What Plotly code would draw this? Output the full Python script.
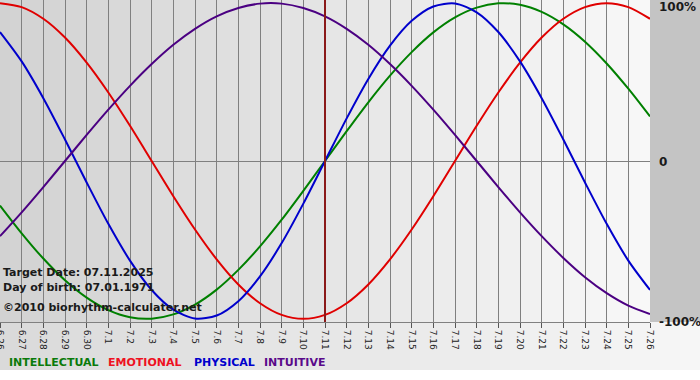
import plotly.graph_objects as go

# ---- data ----
days = ["6.26", "6.27", "6.28", "6.29", "6.30",
        "7.1", "7.2", "7.3", "7.4", "7.5", "7.6", "7.7", "7.8", "7.9", "7.10",
        "7.11", "7.12", "7.13", "7.14", "7.15", "7.16", "7.17", "7.18", "7.19",
        "7.20", "7.21", "7.22", "7.23", "7.24", "7.25", "7.26"]

physical = [0.817, 0.631, 0.398, 0.136, -0.136, -0.398, -0.631, -0.817, -0.942, -0.998,
            -0.979, -0.888, -0.731, -0.520, -0.270, 0.0, 0.270, 0.520, 0.731, 0.888,
            0.979, 0.998, 0.942, 0.817, 0.631, 0.398, 0.136, -0.136, -0.398, -0.631, -0.817]

emotional = [1.0, 0.975, 0.901, 0.782, 0.623, 0.434, 0.223, 0.0, -0.223, -0.434,
             -0.623, -0.782, -0.901, -0.975, -1.0, -0.975, -0.901, -0.782, -0.623, -0.434,
             -0.223, 0.0, 0.223, 0.434, 0.623, 0.782, 0.901, 0.975, 1.0, 0.975, 0.901]

intellectual = [-0.282, -0.458, -0.618, -0.756, -0.866, -0.945, -0.990, -0.999, -0.972, -0.910,
                -0.815, -0.690, -0.541, -0.372, -0.189, 0.0, 0.189, 0.372, 0.541, 0.690,
                0.815, 0.910, 0.972, 0.999, 0.990, 0.945, 0.866, 0.756, 0.618, 0.458, 0.282]

intuitive = [-0.476, -0.325, -0.165, 0.0, 0.165, 0.325, 0.476, 0.614, 0.736, 0.837,
             0.916, 0.969, 0.997, 0.997, 0.969, 0.916, 0.837, 0.736, 0.614, 0.476,
             0.325, 0.165, 0.0, -0.165, -0.325, -0.476, -0.614, -0.736, -0.837, -0.916, -0.969]

target_day = "7.11"
y_labels = ["100%", "0", "-100%"]
legend_names = ["INTELLECTUAL", "EMOTIONAL", "PHYSICAL", "INTUITIVE"]
info_lines = ["Target Date: 07.11.2025", "Day of birth: 07.01.1971", "\u00a92010 biorhythm-calculater.net"]

# ---- styles ----
C_INT = "#008000"
C_EMO = "#e00000"
C_PHY = "#0000cc"
C_ITU = "#4b0082"
FONT = "DejaVu Sans"

W, H = 700, 380
ML, MR, MT, MB = 0, 50, 0, 58
PW, PH = W - ML - MR, H - MT - MB

fig = go.Figure()
series = [(intellectual, C_INT), (emotional, C_EMO), (physical, C_PHY), (intuitive, C_ITU)]
for vals, col in series:
    fig.add_trace(go.Scatter(x=days, y=vals, mode="lines",
                             line=dict(color=col, width=2, shape="spline", smoothing=0.8),
                             hoverinfo="skip", showlegend=False))

shapes = []
# plot-area gradient (left darker -> right lighter)
N = 65
for i in range(N):
    t = i / (N - 1)
    v = int(round(210 + (248 - 210) * t))
    shapes.append(dict(type="rect", xref="paper", yref="paper",
                       x0=i / N, x1=(i + 1) / N + 0.002, y0=0, y1=1,
                       fillcolor=f"rgb({v},{v},{v})", line=dict(width=0), layer="below"))
# right strip
shapes.append(dict(type="rect", xref="paper", yref="paper", x0=1, x1=W / PW + 0.01, y0=0, y1=1,
                   fillcolor="#c4c4c4", line=dict(width=0), layer="below"))
# bottom band gradient
band_h = 48 / PH
N2 = 70
for i in range(N2):
    t = i / (N2 - 1)
    v = int(round(218 + (246 - 218) * t))
    shapes.append(dict(type="rect", xref="paper", yref="paper",
                       x0=i / N2 * (W / PW), x1=(i + 1) / N2 * (W / PW) + 0.002,
                       y0=-band_h, y1=0,
                       fillcolor=f"rgb({v},{v},{v})", line=dict(width=0), layer="below"))
# target day line (category index)
ti = days.index(target_day)
shapes.append(dict(type="line", xref="x", yref="paper", x0=ti, x1=ti, y0=0, y1=1,
                   line=dict(color="#8b1a1a", width=2), layer="above"))

annotations = []
# right-hand value labels
for txt, yv in zip(y_labels, [1.0 - 7 / PH, 0.5 - 0.5 / PH, 0.0]):
    annotations.append(dict(text=f"<b>{txt}</b>", xref="paper", yref="paper", x=1 + 8 / PW, y=yv,
                            xanchor="left", yanchor="middle", showarrow=False, borderpad=0,
                            font=dict(family=FONT, size=12, color="#1a1a1a")))
# info lines
for txt, ypx in zip(info_lines, [272, 287, 307]):
    annotations.append(dict(text=f"<b>{txt}</b>", xref="paper", yref="paper", x=2 / PW, y=1 - ypx / PH,
                            xanchor="left", yanchor="middle", showarrow=False, borderpad=0,
                            font=dict(family=FONT, size=11, color="#1a1a1a")))
# colored legend words
leg_cols = ["#0a7a0a", "#ee1122", "#0000cc", "#5a0a8a"]
leg_x = [8, 107, 193, 263]
for name, col, xp in zip(legend_names, leg_cols, leg_x):
    annotations.append(dict(text=f"<b>{name}</b>", xref="paper", yref="paper", x=xp / PW, y=1 - 362 / PH,
                            xanchor="left", yanchor="middle", showarrow=False, borderpad=0,
                            font=dict(family=FONT, size=11, color=col)))

fig.update_layout(
    width=W, height=H,
    margin=dict(l=ML, r=MR, t=MT, b=MB, pad=0),
    paper_bgcolor="white", plot_bgcolor="rgba(0,0,0,0)",
    shapes=shapes, annotations=annotations,
    xaxis=dict(type="category", range=[0, len(days) - 1], showgrid=True, gridcolor="#808080", gridwidth=1,
               tickangle=90, ticks="outside", ticklen=5, tickcolor="#555555",
               tickfont=dict(family=FONT, size=9, color="#222222"),
               showline=True, linecolor="#808080", linewidth=1, zeroline=False, fixedrange=True,
               automargin=False),
    yaxis=dict(range=[-1.02, 1.02], showgrid=False, zeroline=True, zerolinecolor="#808080", zerolinewidth=1,
               showticklabels=False, ticks="", fixedrange=True, automargin=False),
)

fig.write_html("out.html")
